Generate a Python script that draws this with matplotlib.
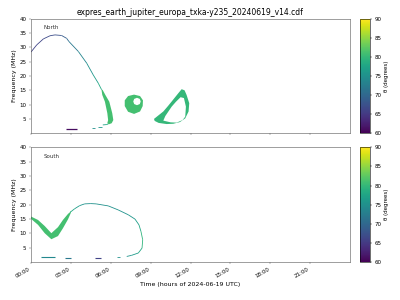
import numpy as np
import matplotlib
matplotlib.use('Agg')
import matplotlib.pyplot as plt
import matplotlib.dates as mdates
from matplotlib.collections import LineCollection
from matplotlib.path import Path
from matplotlib.patches import PathPatch
from datetime import datetime

# --- data (time in hours of 2024-06-19, frequency in MHz, theta in degrees) ---
# North hemisphere
north_curve_t = [0.0, 0.43, 0.93, 1.43, 1.8, 2.3, 2.68, 2.85, 3.56, 4.19, 4.68, 5.06, 5.31]
north_curve_f = [28.4, 30.9, 33.0, 34.1, 34.4, 34.2, 33.2, 32.1, 28.6, 24.5, 20.4, 17.5, 15.2]
north_curve_th = [66, 66, 66.5, 67, 67, 68, 69.5, 71, 73, 74.5, 76, 77.5, 79]

north_band_t = [5.30, 5.36, 5.56, 5.74, 5.80, 5.74, 5.85, 6.07, 6.19, 6.11, 5.89, 5.59, 5.38]
north_band_f = [15.2, 13.4, 11.0, 7.0, 4.6, 3.5, 3.1, 3.5, 4.6, 7.0, 11.0, 13.4, 15.2]
north_band_th = 81

north_tail_t = [5.8, 5.65, 5.4, np.nan, 5.31, 5.06, np.nan, 4.81, 4.56]
north_tail_f = [3.2, 3.0, 2.9, np.nan, 2.3, 2.3, np.nan, 1.75, 1.75]
north_tail_th = [79, 78, 77, 77, 76, 76, 75, 75, 75]

north_bar_t = [2.63, 3.48]
north_bar_f = [1.5, 1.5]
north_bar_th = [61, 61]

north_blob_t = [7.75, 8.2, 8.42, 8.4, 8.2, 7.75, 7.3, 7.05, 7.05, 7.3]
north_blob_f = [13.5, 13.0, 11.5, 9.5, 7.6, 6.75, 7.5, 9.5, 11.5, 13.0]
north_blob_hole_t = [7.97, 8.18, 8.25, 8.18, 7.97, 7.76, 7.69, 7.76]
north_blob_hole_f = [12.4, 12.0, 11.1, 10.2, 9.8, 10.2, 11.1, 12.0]
north_blob_th = 81

north_ring_t = [9.25, 9.6, 9.95, 10.3, 10.58, 11.08, 11.33, 11.55, 11.7, 11.9, 11.85, 11.6, 11.2, 10.7, 10.2, 9.6, 9.3]
north_ring_f = [5.0, 6.3, 7.6, 9.5, 11.1, 14.0, 15.4, 15.0, 13.4, 10.5, 7.6, 5.2, 3.9, 3.3, 3.2, 3.6, 4.3]
north_ring_hole_t = [9.95, 10.5, 10.95, 11.4, 11.6, 11.65, 11.5, 11.25, 10.9, 10.58, 10.1]
north_ring_hole_f = [4.4, 3.8, 3.7, 4.6, 5.8, 9.3, 12.3, 12.6, 11.0, 9.3, 6.0]
north_ring_th = 80

# South hemisphere
south_band_t = [0.0, 0.53, 1.03, 1.53, 2.03, 2.4, 2.78, 3.0, 3.0, 2.78, 2.4, 2.03, 1.53, 1.03, 0.53, 0.0]
south_band_f = [15.9, 14.7, 12.6, 10.1, 12.2, 14.7, 16.8, 17.7, 17.2, 14.9, 11.8, 9.1, 8.0, 10.1, 13.0, 15.1]
south_band_th = 81

south_curve_t = [2.95, 3.28, 3.66, 4.03, 4.5, 4.9, 5.81, 6.56, 7.32, 7.82, 8.12, 8.27, 8.4, 8.35, 8.07, 7.57, 7.2]
south_curve_f = [17.4, 18.6, 19.7, 20.3, 20.4, 20.3, 19.6, 18.2, 16.5, 15.0, 13.0, 10.7, 7.8, 4.9, 3.2, 2.4, 2.0]
south_curve_th = [79, 77, 76, 75, 75, 75, 75, 75, 75.5, 76, 77, 79, 80, 79, 77, 76, 75]

south_tail_t = [6.44, 6.69]
south_tail_f = [1.8, 1.8]
south_tail_th = [75, 75]

south_dash_t = [0.78, 1.78, np.nan, 2.53, 2.98, np.nan, 4.81, 5.26]
south_dash_f = [1.74, 1.74, np.nan, 1.45, 1.45, np.nan, 1.45, 1.45]
south_dash_th = [74, 74, 74, 72, 72, 72, 66, 66]

hour_ticks = list(range(0, 24, 3))
freq_ticks = [5, 10, 15, 20, 25, 30, 35, 40]
theta_ticks = [60, 65, 70, 75, 80, 85, 90]

day0 = mdates.date2num(datetime(2024, 6, 19))
cmap = plt.get_cmap('viridis')
norm = plt.Normalize(60, 90)


def hx(t):
    return day0 + np.asarray(t, float) / 24.0


def draw_line(ax, t, f, th, lw=1.2):
    pts = np.column_stack([hx(t), np.asarray(f, float)])
    th = np.asarray(th, float)
    segs = np.stack([pts[:-1], pts[1:]], axis=1)
    cols = cmap(norm((th[:-1] + th[1:]) / 2))
    keep = np.isfinite(segs).all(axis=(1, 2))
    ax.add_collection(LineCollection(segs[keep], colors=cols[keep], linewidths=lw, capstyle='butt'))


def area(v):
    x, y = v[:, 0], v[:, 1]
    return 0.5 * np.sum(x * np.roll(y, -1) - np.roll(x, -1) * y)


def draw_patch(ax, t, f, th, hole_t=None, hole_f=None):
    outer = np.column_stack([hx(t), np.asarray(f, float)])
    parts = [outer]
    if hole_t is not None:
        hole = np.column_stack([hx(hole_t), np.asarray(hole_f, float)])
        if np.sign(area(hole)) == np.sign(area(outer)):
            hole = hole[::-1]
        parts.append(hole)
    verts, codes = [], []
    for p in parts:
        verts += list(p) + [p[0]]
        codes += [Path.MOVETO] + [Path.LINETO] * (len(p) - 1) + [Path.CLOSEPOLY]
    ax.add_patch(PathPatch(Path(verts, codes), facecolor=cmap(norm(th)), edgecolor='none', lw=0))


fig = plt.figure(figsize=(8, 6), dpi=50)
ax1 = fig.add_axes([0.0775, 0.556, 0.7975, 0.381])
ax2 = fig.add_axes([0.0775, 0.126, 0.7975, 0.383])
cax1 = fig.add_axes([0.9, 0.556, 0.0245, 0.381])
cax2 = fig.add_axes([0.9, 0.126, 0.0245, 0.383])

# North
draw_line(ax1, north_curve_t, north_curve_f, north_curve_th)
draw_patch(ax1, north_band_t, north_band_f, north_band_th)
draw_line(ax1, north_tail_t, north_tail_f, north_tail_th)
draw_line(ax1, north_bar_t, north_bar_f, north_bar_th, lw=1.8)
draw_patch(ax1, north_blob_t, north_blob_f, north_blob_th, north_blob_hole_t, north_blob_hole_f)
draw_patch(ax1, north_ring_t, north_ring_f, north_ring_th, north_ring_hole_t, north_ring_hole_f)

# South
draw_patch(ax2, south_band_t, south_band_f, south_band_th)
draw_line(ax2, south_curve_t, south_curve_f, south_curve_th)
draw_line(ax2, south_tail_t, south_tail_f, south_tail_th)
draw_line(ax2, south_dash_t, south_dash_f, south_dash_th, lw=1.6)

for ax, name in [(ax1, 'North'), (ax2, 'South')]:
    ax.set_xlim(hx(0), hx(23.99))
    ax.set_ylim(0, 40)
    ax.set_yticks(freq_ticks)
    ax.xaxis.set_major_locator(mdates.HourLocator(byhour=hour_ticks))
    ax.xaxis.set_major_formatter(mdates.DateFormatter('%H:%M'))
    ax.tick_params(labelsize=8, length=3, width=0.6, color='#555555')
    for s in ax.spines.values():
        s.set_color('#555555')
        s.set_linewidth(0.8)
    ax.set_ylabel('Frequency (MHz)', fontsize=9)
    ax.text(0.04, 0.91, name, transform=ax.transAxes, fontsize=8, color='#333333')

ax1.tick_params(labelbottom=False)
plt.setp(ax2.get_xticklabels(), rotation=30, ha='right')
ax2.set_xlabel('Time (hours of 2024-06-19 UTC)', fontsize=9)
ax1.set_title('expres_earth_jupiter_europa_txka-y235_20240619_v14.cdf', fontsize=11)

sm = plt.cm.ScalarMappable(norm=norm, cmap=cmap)
for cax in (cax1, cax2):
    cb = fig.colorbar(sm, cax=cax, ticks=theta_ticks)
    cb.ax.tick_params(labelsize=8, length=3, width=0.6)
    cb.outline.set_linewidth(0.8)
    cb.set_label('θ (degrees)', fontsize=8)

fig.savefig('out.png', dpi=50)
